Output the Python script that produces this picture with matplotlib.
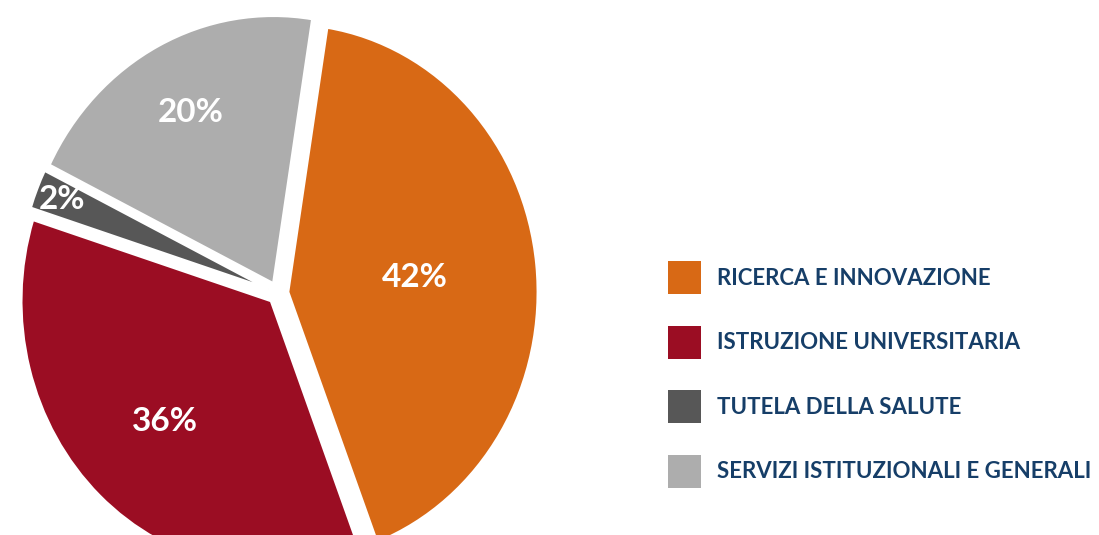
import matplotlib.pyplot as plt
import numpy as np
from matplotlib.patches import Patch

categories = ['RICERCA E INNOVAZIONE', 'ISTRUZIONE UNIVERSITARIA',
              'TUTELA DELLA SALUTE', 'SERVIZI ISTITUZIONALI E GENERALI']
values = [41.7, 35.7, 2.4, 20.2]
colors = ['#D86915', '#9B0D23', '#575757', '#ADADAD']
label_radius = [0.51, 0.62, 0.89, 0.72]

plt.rcParams['font.family'] = ['Lato', 'DejaVu Sans']

fig = plt.figure(figsize=(10.99, 5.35), dpi=100)
# pie area: 1 unit = 250 px wide, 268 px tall, centre at (276, 293) px
ax = fig.add_axes([-22/1099, -79.6/535, 600/1099, 643/535])

wedges, _ = ax.pie(values, colors=colors, startangle=81, counterclock=False,
                   explode=[0.04] * 4,
                   wedgeprops=dict(edgecolor='white', linewidth=2))
ax.set_aspect('auto')
ax.set_xlim(-1.2, 1.2)
ax.set_ylim(-1.2, 1.2)

for w, v, r in zip(wedges, values, label_radius):
    ang = np.deg2rad((w.theta1 + w.theta2) / 2)
    cx, cy = w.center
    ax.text(cx + r * np.cos(ang), cy + r * np.sin(ang), f'{round(v)}%',
            ha='center', va='center', color='white', fontsize=24,
            fontweight='bold')

handles = [Patch(facecolor=c, edgecolor='none') for c in colors]
fig.legend(handles, categories, loc='center left',
           bbox_to_anchor=(668/1099, 160.5/535), frameon=False,
           handlelength=1.486, handleheight=1.91,
           handletextpad=0.72, labelspacing=1.42, borderpad=0,
           borderaxespad=0, labelcolor='#163E68',
           prop=dict(weight='bold', size=16))

fig.savefig('out.png', dpi=100)
